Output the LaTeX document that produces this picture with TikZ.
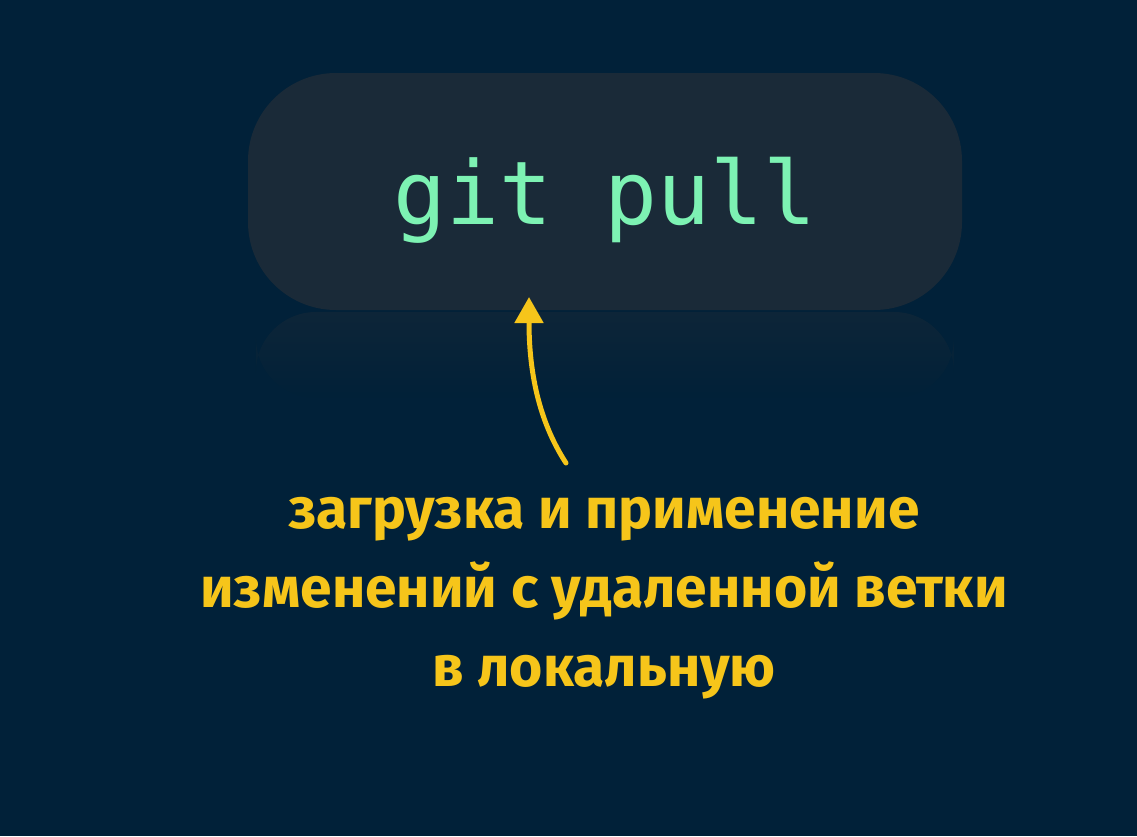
\documentclass[tikz,border=0pt]{standalone}
\usepackage{fontspec}
\newfontfamily\cmdfont{DejaVu Sans Mono}
\newfontfamily\notefont{Fira Sans}
\usetikzlibrary{arrows.meta,fadings}

\definecolor{bgnavy}{HTML}{012139}
\definecolor{boxgrey}{HTML}{1A2A38}
\definecolor{cmdgreen}{HTML}{7DF2B3}
\definecolor{noteyellow}{HTML}{F6C51A}

\begin{document}
\begin{tikzpicture}[x=1pt, y=-1pt]
			\fill[bgnavy] (0,0) rectangle (1137,836);
			\useasboundingbox (0,0) rectangle (1137,836);

			% reflection under the box
			\fill[boxgrey, opacity=.5, path fading=south, rounded corners=60pt]
				(256,312) rectangle (954,398);

			\node[fill=boxgrey, rounded corners=88pt, minimum width=714pt, minimum height=237pt,
				inner sep=0pt] (cmd) at (605,191.5) {};
			\node[font=\cmdfont\fontsize{88}{88}\selectfont, text=cmdgreen, inner sep=0pt]
				(cmdtext) at ([yshift=-9pt]cmd.center) {git pull};

			{ [font=\notefont\bfseries\fontsize{57}{79}\selectfont]
				\node[text=noteyellow, align=center, anchor=north] (note) at (604,478)
					{загрузка и применение\\изменений с удаленной ветки\\в локальную};
			}

			\coordinate (tail) at (566,463);
			\coordinate (head) at (529,297);
			\draw[noteyellow, line width=5pt, line cap=round, -{Triangle[width=28pt,length=26pt]}]
				(tail) .. controls (538,420) and (529,370) .. (head);
		\end{tikzpicture}
\end{document}
